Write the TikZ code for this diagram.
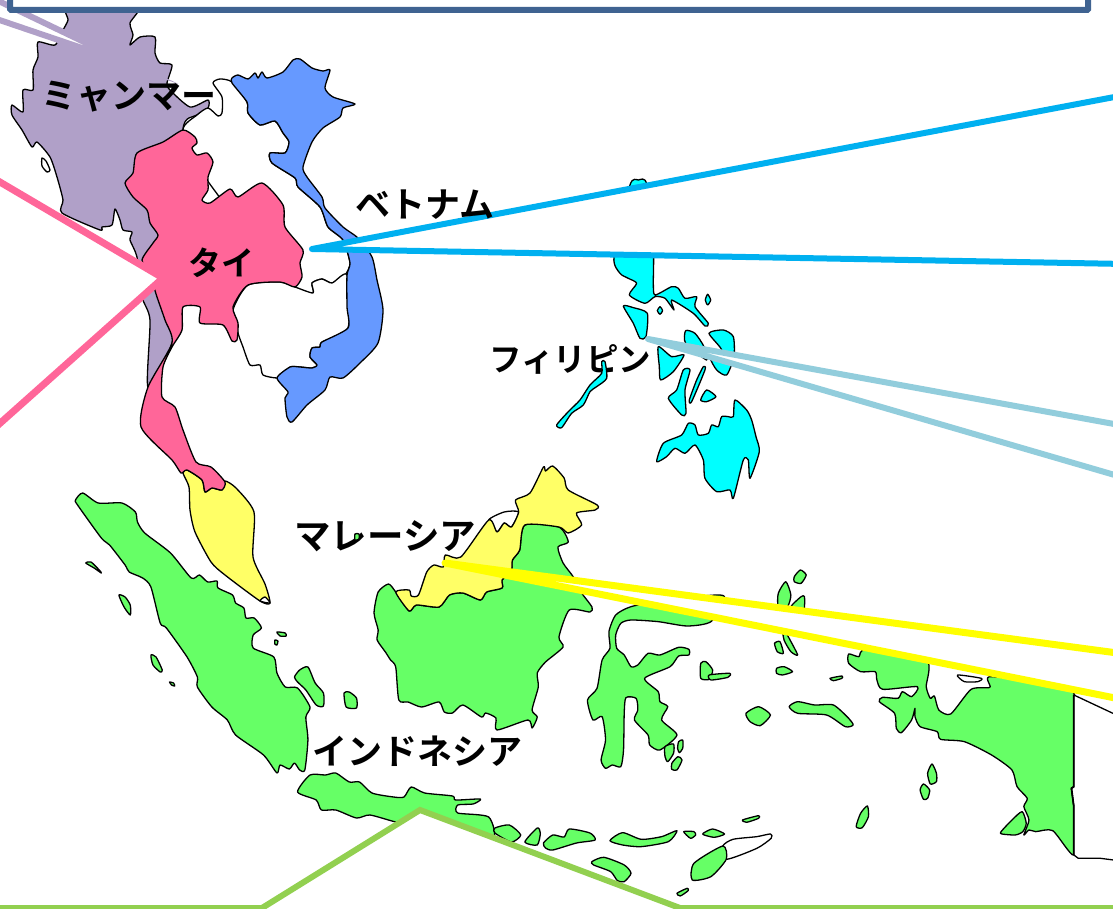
\documentclass[tikz,border=0pt]{standalone}
\usepackage{fontspec}
\newfontfamily\jp{Noto Sans CJK JP}[BoldFont={Noto Sans CJK JP Bold}]
\definecolor{mm}{HTML}{B0A0C8}
\definecolor{th}{HTML}{FF6699}
\definecolor{vn}{HTML}{6699FF}
\definecolor{ph}{HTML}{00FFFF}
\definecolor{my}{HTML}{FFFF66}
\definecolor{id}{HTML}{66FF66}
\definecolor{cblue}{HTML}{00B0F0}
\definecolor{clight}{HTML}{92CDDC}
\definecolor{cyel}{HTML}{FFFF00}
\definecolor{cgreen}{HTML}{92D050}
\definecolor{cpink}{HTML}{FF6699}
\definecolor{frame}{HTML}{3F6391}
\tikzset{
 land/.style={draw=black,line width=1.3pt,line join=round,fill=#1},
 callout/.style={draw=#1,line width=6pt,fill=white,line join=round},
 lbl/.style={font=\jp\bfseries\fontsize{#1}{#1}\selectfont,text=black,inner sep=0pt,anchor=west},
}
\newcommand{\shp}[2]{\draw[land=#1] plot[smooth cycle,tension=0.4] coordinates {#2};}
\begin{document}
\begin{tikzpicture}[x=1pt,y=-1pt]
\useasboundingbox (0,0) rectangle (1113,909);
\clip (0,0) rectangle (1113,909);
% mainland
\shp{mm}{(68,5)(68,20)(63,30)(55,45)(38,42)(38,57)(33,70)(33,90)(23,90)(23,112)(12,105)(12,115)(22,130)(32,147)(37,142)(50,157)(57,177)(63,200)(62,213)(100,230)(102,227)(112,225)(115,209)(120,220)(123,230)(132,232)(130,240)(137,257)(142,297)(150,320)(148,387)(172,343)(190,250)(183,130)(197,115)(208,108)(208,100)(190,107)(170,90)(167,83)(172,65)(160,63)(155,53)(155,37)(140,37)(130,45)(133,35)(130,23)(138,5)}
\shp{white}{(42,158)(46,161)(50,170)(47,172)(42,166)}
\shp{white}{(213,83)(220,79)(232,82)(247,102)(248,113)(260,125)(275,121)(283,133)(289,142)(285,153)(270,153)(272,163)(295,178)(298,187)(320,207)(328,227)(343,240)(350,263)(345,275)(332,283)(322,279)(312,283)(313,293)(295,287)(260,250)(200,170)(183,130)(197,115)(208,108)(218,116)(222,113)(222,97)}
\shp{white}{(248,285)(280,282)(295,287)(313,293)(312,283)(322,279)(332,283)(347,275)(348,328)(322,342)(320,347)(312,348)(310,357)(317,365)(312,368)(300,367)(290,367)(288,375)(277,378)(263,375)(260,365)(250,365)(243,347)(238,333)(233,310)}
\shp{vn}{(232,78)(238,75)(248,79)(255,73)(258,78)(262,72)(267,78)(283,72)(293,60)(300,59)(312,68)(323,71)(330,70)(325,88)(333,97)(355,104)(343,108)(340,117)(323,128)(312,142)(303,167)(307,177)(322,197)(325,208)(343,227)(358,238)(372,257)(377,280)(383,310)(378,343)(360,363)(343,378)(330,377)(325,390)(307,405)(292,422)(287,417)(285,398)(288,392)(277,378)(290,367)(300,367)(312,368)(317,365)(310,357)(312,348)(320,347)(322,342)(348,328)(347,307)(347,275)(350,263)(343,240)(328,227)(320,207)(298,187)(295,178)(272,163)(270,153)(285,153)(289,142)(283,133)(275,121)(260,125)(248,113)(247,102)(232,83)}
\shp{my}{(183,473)(187,470)(202,480)(205,492)(212,488)(222,490)(225,481)(236,488)(254,512)(253,557)(265,584)(270,603)(260,601)(225,575)(211,562)(195,532)(190,510)(189,487)}
\shp{white}{(260,601)(265,597)(270,603)}
\shp{th}{(183,130)(195,137)(197,143)(192,148)(197,155)(207,153)(213,162)(208,177)(208,190)(202,200)(210,203)(230,189)(238,197)(262,183)(283,205)(285,227)(303,250)(300,263)(302,277)(295,287)(280,282)(248,285)(233,307)(238,323)(237,340)(232,341)(223,325)(200,323)(200,307)(183,307)(182,330)(172,347)(163,367)(162,397)(175,407)(183,430)(196,462)(211,467)(225,482)(222,490)(212,488)(205,492)(202,480)(187,470)(181,473)(172,460)(141,427)(148,387)(172,343)(165,320)(157,297)(150,275)(142,260)(153,243)(158,235)(150,223)(147,210)(133,197)(125,183)(133,173)(137,153)(163,142)}
% Malay/Indonesia western
\begin{scope}[xshift=-1.98pt,xscale=1.033]
\shp{id}{(75,500)(82,493)(97,503)(120,503)(133,512)(135,522)(142,533)(167,553)(187,578)(195,575)(203,582)(212,581)(213,588)(227,595)(230,603)(238,608)(240,618)(248,618)(255,628)(247,635)(247,648)(267,657)(270,673)(278,687)(290,688)(302,707)(298,717)(300,740)(297,770)(292,770)(287,763)(282,769)(273,765)(270,773)(257,755)(230,735)(222,720)(207,707)(193,687)(193,677)(183,657)(163,628)(157,623)(148,587)(140,578)(127,572)(123,565)(108,545)(100,538)(77,505)}
\shp{id}{(85,563)(90,562)(98,570)(100,573)(93,568)}
\shp{id}{(117,595)(123,597)(128,605)(128,615)(122,607)}
\shp{id}{(148,655)(153,657)(159,670)(157,672)(150,665)}
\shp{id}{(166,682)(170,683)(171,686)(168,685)}
\shp{id}{(270,632)(278,633)(279,636)(273,636)}
\shp{id}{(268,640)(271,641)(270,645)(268,644)}
\shp{id}{(287,677)(292,670)(300,667)(307,683)(315,693)(315,706)(308,705)(298,690)(290,682)}
\shp{id}{(335,693)(340,692)(347,698)(347,708)(337,707)}
\shp{id}{(368,592)(378,584)(385,592)(398,611)(405,605)(427,607)(437,595)(450,593)(467,600)(473,592)(488,588)(488,580)(497,570)(498,560)(505,550)(510,525)(543,527)(552,542)(542,547)(547,563)(557,577)(565,593)(575,607)(573,612)(553,610)(543,637)(547,647)(530,662)(522,673)(523,687)(517,710)(522,717)(517,728)(513,720)(483,730)(482,718)(472,713)(468,717)(450,705)(440,713)(432,712)(427,702)(410,707)(397,702)(388,700)(385,667)(380,660)(375,652)(367,640)(368,630)(364,613)}
\shp{white}{(475,520)(483,532)(490,523)(497,527)(504,512)(490,512)}
\shp{my}{(385,592)(398,590)(400,596)(407,595)(415,572)(422,565)(431,567)(433,555)(448,557)(475,520)(483,532)(490,523)(497,527)(504,512)(501,500)(515,493)(528,467)(530,471)(537,466)(548,478)(552,490)(580,505)(578,510)(560,513)(565,525)(552,533)(543,527)(510,525)(505,550)(498,560)(497,570)(488,580)(488,588)(473,592)(467,600)(450,593)(437,595)(427,607)(405,605)(398,611)}
\shp{id}{(290,792)(302,775)(317,775)(327,773)(340,782)(350,782)(362,793)(383,797)(393,797)(400,787)(413,793)(440,796)(443,800)(467,799)(460,804)(445,805)(445,813)(475,817)(478,840)(420,830)(385,822)(360,815)(347,818)(327,810)(313,810)(308,800)}
\shp{id}{(481,828)(495,825)(506,835)(497,842)(481,833)}
\shp{id}{(510,842)(522,828)(525,833)(522,845)}
\shp{id}{(528,843)(537,835)(548,837)(553,829)(573,833)(578,840)(560,843)(537,850)(530,848)}
\end{scope}
% eastern Indonesia
\begin{scope}[shift={(580,560)},x=0.3401pt,y=-0.3333pt]
\shp{id}{(150,140)(250,120)(400,105)(425,115)(385,185)(315,198)(230,185)(150,180)(120,190)(105,225)(108,265)(130,285)(150,320)(170,315)(200,280)(235,285)(290,262)(320,268)(320,285)(290,288)(265,320)(190,355)(230,395)(235,425)(258,440)(240,480)(285,525)(235,570)(205,555)(200,525)(160,480)(170,450)(165,415)(135,413)(130,460)(128,570)(120,620)(95,615)(75,625)(62,600)(75,540)(65,470)(38,480)(22,420)(50,385)(65,300)(88,265)(85,215)(105,165)}
\shp{id}{(250,560)(275,552)(275,580)(258,605)(250,590)}
\shp{id}{(290,545)(302,540)(302,565)(292,578)(287,565)}
\shp{id}{(270,610)(288,590)(300,600)(285,630)(270,628)}
\shp{id}{(355,310)(370,305)(390,330)(380,358)(355,355)}
\shp{id}{(380,345)(440,340)(435,352)(385,360)}
\shp{id}{(630,50)(648,30)(665,45)(650,70)(630,65)}
\shp{id}{(605,65)(620,105)(610,140)(583,140)(583,100)}
\shp{id}{(620,140)(650,110)(660,110)(658,150)(630,160)}
\shp{id}{(595,200)(615,235)(640,285)(620,275)(600,240)}
\shp{id}{(572,250)(588,245)(598,280)(580,275)}
\shp{id}{(578,325)(600,320)(625,335)(595,345)(578,340)}
\shp{id}{(735,355)(770,348)(770,355)(745,362)}
\shp{id}{(488,460)(525,440)(560,465)(530,497)(500,485)}
\shp{id}{(615,440)(640,425)(690,435)(745,435)(790,475)(803,495)(780,500)(725,465)(640,460)}
\shp{id}{(790,282)(820,290)(840,270)(1018,300)(1018,380)(1030,415)(1042,408)(1055,450)(1090,462)(1150,388)(1205,382)(1210,350)(1452,400)(1452,680)(1445,685)(1452,740)(1452,885)(1390,812)(1340,815)(1320,810)(1305,825)(1320,780)(1305,740)(1315,715)(1285,680)(1270,630)(1210,585)(1130,545)(1060,538)(1050,515)(1000,500)(985,470)(985,445)(975,480)(945,518)(930,505)(925,460)(880,425)(890,412)(935,415)(948,395)(975,410)(992,380)(890,388)(873,360)(868,335)(825,335)(790,310)}
\draw[land=white] (1452,405) -- (1640,495) -- (1640,905) -- (1568,900) -- (1530,895) -- (1465,895) -- (1452,885) -- (1452,740) -- (1445,685) -- (1452,680) -- cycle;
\draw[line width=1.8pt] (1452,405) -- (1452,680) -- (1445,685) -- (1452,740) -- (1452,885);
\shp{white}{(1110,345)(1180,355)(1170,365)(1130,365)}
\shp{id}{(1035,612)(1048,640)(1048,665)(1030,672)(1022,640)}
\shp{id}{(1010,672)(1028,690)(1022,715)(1010,718)(1000,690)}
\shp{id}{(845,738)(848,770)(830,803)(812,800)(825,760)}
\shp{id}{(1238,815)(1270,780)(1300,755)(1312,790)(1302,815)(1280,825)(1240,822)}
\shp{id}{(88,842)(125,818)(180,838)(240,830)(285,812)(260,845)(180,860)(125,855)}
\shp{id}{(305,815)(335,815)(340,825)(325,835)}
\shp{id}{(362,820)(390,807)(425,822)(395,832)(365,825)}
\shp{id}{(478,780)(525,767)(525,775)(490,787)}
\shp{white}{(420,858)(450,838)(520,830)(560,822)(562,835)(520,865)(430,898)}
\shp{id}{(330,960)(335,910)(420,858)(430,898)(385,950)}
\shp{id}{(35,905)(70,892)(130,915)(150,940)(130,965)(110,962)(90,935)(40,915)}
\shp{id}{(285,1000)(315,985)(318,992)(295,1008)}
\end{scope}
% Philippines
\begin{scope}[shift={(540,170)},x=0.3333pt,y=-0.3333pt]
\shp{ph}{(270,45)(295,30)(320,42)(340,240)(340,340)(345,375)(395,350)(415,355)(435,385)(470,380)(465,410)(505,460)(495,468)(460,430)(395,390)(402,420)(375,385)(345,380)(315,400)(268,375)(290,340)(265,325)(240,310)(222,260)}
\shp{ph}{(503,373)(512,390)(503,405)(496,390)}
\shp{ph}{(360,410)(368,422)(360,433)(352,422)}
\shp{ph}{(250,408)(280,413)(322,430)(318,500)(300,505)(280,460)}
\shp{ph}{(507,490)(550,480)(580,500)(582,560)(560,615)(530,600)(510,560)(545,540)}
\shp{ph}{(437,482)(465,490)(492,530)(500,570)(437,520)}
\shp{ph}{(355,530)(395,560)(432,555)(400,605)(362,630)(358,590)}
\shp{ph}{(430,600)(450,600)(435,660)(438,730)(425,735)(385,685)(410,660)}
\shp{ph}{(490,590)(495,600)(455,695)(448,690)(470,630)}
\shp{ph}{(500,660)(528,680)(500,695)(482,690)}
\shp{ph}{(350,875)(370,820)(425,795)(445,760)(465,765)(475,795)(505,790)(515,765)(535,770)(545,740)(565,740)(580,740)(585,690)(620,720)(635,750)(648,800)(658,845)(630,925)(625,870)(610,870)(580,985)(570,960)(530,965)(495,925)(490,870)(465,825)(435,850)(405,835)(380,860)}
\end{scope}
% callouts
\coordinate (pinkA) at (-12,175); \coordinate (pinkT) at (163,278); \coordinate (pinkB) at (-12,434);
\draw[callout=cpink,line width=7pt,line join=miter] (pinkA) -- (pinkT) -- (pinkB);
\coordinate (purA) at (-10,-3.1); \coordinate (purT) at (132,65); \coordinate (purB) at (-10,16.8);
\draw[callout=mm,line join=miter,miter limit=100] (purA) -- (purT) -- (purB);
\coordinate (blueA) at (1125,95); \coordinate (blueT) at (312,249); \coordinate (blueB) at (1125,264);
\draw[callout=cblue] (blueA) -- (blueT) -- (blueB);
\coordinate (lbA) at (1125,426); \coordinate (lbT) at (648,339); \coordinate (lbB) at (1125,478);
\draw[callout=clight] (lbA) -- (lbT) -- (lbB);
\coordinate (yeA) at (1125,654); \coordinate (yeT) at (445,563); \coordinate (yeB) at (1125,700);
\draw[callout=cyel,line width=7pt] (yeA) -- (yeT) -- (yeB);
\coordinate (grA) at (-10,908); \coordinate (grC) at (262,908); \coordinate (grT) at (420,810); \coordinate (grD) at (680,908); \coordinate (grB) at (1125,908);
\draw[callout=cgreen,line join=miter] (grA) -- (grC) -- (grT) -- (grD) -- (grB) -- (1125,930) -- (-10,930) -- cycle;
\coordinate (f1) at (10,-10); \coordinate (f2) at (1088,10);
\draw[draw=frame,line width=6pt,fill=white,rounded corners=1pt] (f1) rectangle (f2);
% labels
\node[lbl=35] (lmm) at (41,97) {ミャンマー};
\node[lbl=33] (lth) at (188,263) {タイ};
\node[lbl=35] (lvn) at (355,205) {ベトナム};
\node[lbl=32.5] (lph) at (489,359) {フィリピン};
\node[lbl=36.5] (lmy) at (294,536) {マレーシア};
\node[lbl=35] (lid) at (312,751) {インドネシア};
% islands printed over the labels
\begin{scope}[shift={(540,170)},x=0.3333pt,y=-0.3333pt]
\shp{ph}{(185,575)(195,575)(200,625)(170,650)(150,665)(130,705)(95,730)(65,773)(50,765)(85,725)(120,690)(150,645)(185,610)}
\end{scope}
\shp{id}{(355,534)(359,534)(359,539)(355,540)}
\end{tikzpicture}
\end{document}
